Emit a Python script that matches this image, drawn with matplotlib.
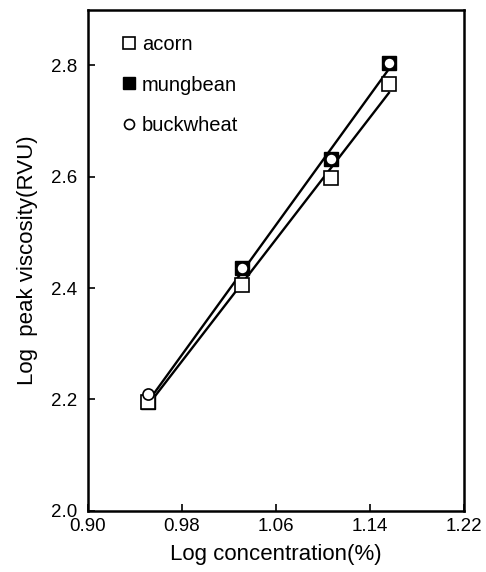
import matplotlib
matplotlib.use("Agg")
import matplotlib.pyplot as plt
import numpy as np

plt.rcParams["font.family"] = ["Liberation Sans", "DejaVu Sans"]

log_conc = [0.951, 1.031, 1.107, 1.156]
acorn = [2.196, 2.405, 2.598, 2.766]
mungbean = [2.196, 2.436, 2.632, 2.805]
buckwheat = [2.210, 2.436, 2.632, 2.805]

x_ticks = [0.90, 0.98, 1.06, 1.14, 1.22]
y_ticks = [2.0, 2.2, 2.4, 2.6, 2.8]

fig = plt.figure(figsize=(4.86, 5.72), dpi=100)
ax = fig.add_axes([0.181, 0.107, 0.774, 0.876])

# regression lines (buckwheat sits on the mungbean line)
xs = np.array([min(log_conc), max(log_conc)])
for series in (acorn, mungbean):
    slope, icpt = np.polyfit(log_conc, series, 1)
    ax.plot(xs, slope * xs + icpt, color="black", linewidth=1.7, zorder=2)

ax.plot(log_conc, mungbean, linestyle="none", marker="s", markersize=9.5,
        markerfacecolor="black", markeredgecolor="black", label="mungbean", zorder=3)
ax.plot(log_conc, acorn, linestyle="none", marker="s", markersize=9.5,
        markerfacecolor="white", markeredgecolor="black", markeredgewidth=1.2,
        label="acorn", zorder=4)
ax.plot(log_conc, buckwheat, linestyle="none", marker="o", markersize=8,
        markerfacecolor="white", markeredgecolor="black", markeredgewidth=1.2,
        label="buckwheat", zorder=5)

ax.set_xlim(0.90, 1.22)
ax.set_ylim(2.0, 2.9)
ax.set_xticks(x_ticks)
ax.set_xticklabels([f"{v:.2f}" for v in x_ticks])
ax.set_yticks(y_ticks)
ax.set_yticklabels([f"{v:.1f}" for v in y_ticks])
ax.tick_params(direction="in", length=5, width=1.2, labelsize=13.5, pad=5)
ax.tick_params(axis="y", pad=8)

for side in ax.spines.values():
    side.set_linewidth(1.8)

ax.set_xlabel("Log concentration(%)", fontsize=16, labelpad=7)
ax.set_ylabel("Log  peak viscosity(RVU)", fontsize=16, labelpad=9)

handles, labels = ax.get_legend_handles_labels()
order = [labels.index(n) for n in ["acorn", "mungbean", "buckwheat"]]
ax.legend([handles[i] for i in order], [labels[i] for i in order],
          loc="upper left", bbox_to_anchor=(0.045, 0.985), frameon=False,
          fontsize=14.5, handlelength=0.6, handletextpad=0.35, labelspacing=1.05,
          markerscale=0.9)

fig.savefig("out.png", dpi=100)
